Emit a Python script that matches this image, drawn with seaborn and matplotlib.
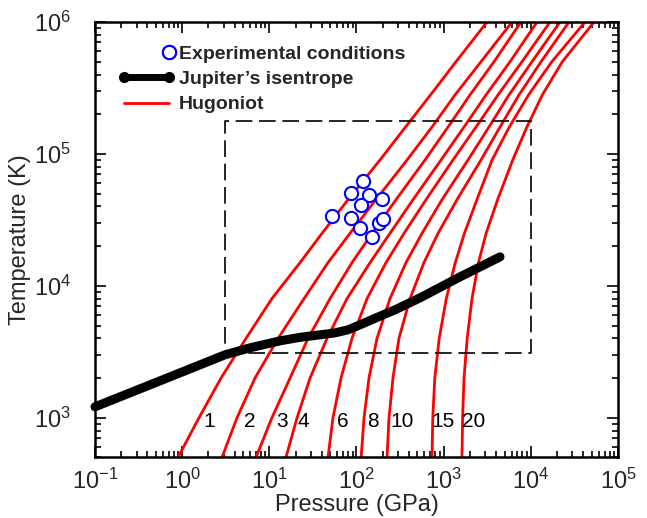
import numpy as np
import pandas as pd
import matplotlib
matplotlib.use("Agg")
import matplotlib.pyplot as plt
import seaborn as sns
from matplotlib.lines import Line2D
from matplotlib.legend_handler import HandlerLine2D
from matplotlib.ticker import LogLocator, FixedLocator

# ---------------- data ----------------
hug_T = [500, 1000, 2000, 4000, 8000, 15000, 25000, 45000, 90000, 160000, 280000, 500000, 1000000]
hug_names = ["1", "2", "3", "4", "6", "8", "10", "15", "20"]
hug_P_1 = [0.895, 1.56, 2.79, 5.40, 10.7, 22.5, 40.2, 79.9, 186, 365, 706, 1384, 3140]
hug_P_2 = [2.86, 4.26, 6.85, 12.6, 25.0, 47.1, 84.2, 167, 380, 735, 1349, 2680, 6080]
hug_P_3 = [7.03, 10.7, 17.3, 27.8, 49.7, 88.8, 151, 284, 611, 1122, 2005, 3780, 7710]
hug_P_4 = [15.5, 20.8, 29.3, 45.9, 77.8, 143, 242, 445, 932, 1712, 3060, 5770, 11780]
hug_P_6 = [47.1, 53.7, 66.4, 88.8, 132, 218, 351, 627, 1279, 2350, 4200, 7910, 16600]
hug_P_8 = [113, 122, 139, 172, 242, 370, 564, 957, 1901, 3311, 5610, 10300, 21600]
hug_P_10 = [224, 236, 262, 307, 411, 594, 861, 1422, 2680, 4430, 7310, 13090, 27400]
hug_P_15 = [735, 750, 791, 889, 1072, 1359, 1729, 2406, 3593, 5661, 9402, 17400, 41820]
hug_P_20 = [1622, 1649, 1711, 1862, 2113, 2508, 3067, 4156, 6194, 9012, 13530, 22960, 53100]
hug_P = [hug_P_1, hug_P_2, hug_P_3, hug_P_4, hug_P_6, hug_P_8, hug_P_10, hug_P_15, hug_P_20]

label_P = [2.05, 6.0, 13.9, 24.5, 69.5, 153, 335, 990, 2230]
label_T = 937

isen_P = [0.1, 0.557, 3.10, 6.0, 13.3, 22.5, 38.1, 56.7, 79.9, 109.7, 163, 276, 535, 1539, 4430]
isen_T = [1211, 1905, 3001, 3391, 3831, 4072, 4254, 4404, 4642, 5064, 5673, 6580, 8110, 11700, 16590]

exp_P = [118, 86.5, 140, 196, 113.5, 51.9, 86.5, 109, 181, 200, 149]
exp_T = [62400, 50400, 48900, 45600, 41100, 34100, 32900, 27600, 29900, 32000, 23600]

box_P = [3.1, 1.0e4]
box_T = [3100, 1.78e5]

x_ticks = [1e-1, 1e0, 1e1, 1e2, 1e3, 1e4, 1e5]
y_ticks = [1e3, 1e4, 1e5, 1e6]


class EndMarkerHandler(HandlerLine2D):
    """Marker placed at the right end of the handle box."""
    def get_xdata(self, legend, xdescent, ydescent, width, height, fontsize):
        pad = self._marker_pad * fontsize
        x_end = -xdescent + width - pad
        xd = np.array([x_end, x_end])
        return xd, xd


# ---------------- style ----------------
sns.set_theme(style="ticks")
plt.rcParams["font.family"] = ["Liberation Sans", "DejaVu Sans"]
plt.rcParams["mathtext.fontset"] = "custom"
plt.rcParams["mathtext.rm"] = "Liberation Sans"
plt.rcParams["mathtext.it"] = "Liberation Sans:italic"
plt.rcParams["mathtext.bf"] = "Liberation Sans:bold"

fig = plt.figure(figsize=(6.47, 5.18), dpi=100)
ax = fig.add_axes([0.1468, 0.1168, 0.9552 - 0.1468, 0.9575 - 0.1168])
ax.set_xscale("log")
ax.set_yscale("log")

# Hugoniots
rows = []
for name, ps in zip(hug_names, hug_P):
    for p, t in zip(ps, hug_T):
        rows.append({"curve": name, "P": p, "T": t})
hug_df = pd.DataFrame(rows)
for name in hug_names:
    sub = hug_df[hug_df["curve"] == name]
    sns.lineplot(data=sub, x="P", y="T", color="#ff0000", lw=2.0, ax=ax,
                 estimator=None, sort=False, legend=False)
    ax.get_lines()[-1].set_solid_joinstyle("round")

# isentrope
isen_df = pd.DataFrame({"P": isen_P, "T": isen_T})
sns.lineplot(data=isen_df, x="P", y="T", color="black", lw=6.5, ax=ax,
             estimator=None, sort=False, legend=False)
ln = ax.get_lines()[-1]
ln.set_solid_capstyle("round")
ln.set_solid_joinstyle("round")
ln.set_clip_on(False)
ln.set_zorder(3)

# dashed box
bx = [box_P[0], box_P[1], box_P[1], box_P[0], box_P[0]]
by = [box_T[0], box_T[0], box_T[1], box_T[1], box_T[0]]
ax.plot(bx, by, color="black", lw=1.2, ls=(0, (10, 4)), zorder=2)

# experimental points
exp_df = pd.DataFrame({"P": exp_P, "T": exp_T})
sns.scatterplot(data=exp_df, x="P", y="T", ax=ax, s=90, facecolor="white",
                edgecolor="#0000ff", linewidth=1.5, zorder=5, legend=False)

# curve labels
for name, p in zip(hug_names, label_P):
    ax.text(p, label_T, name, fontsize=15, ha="center", va="center", color="black")

ax.set_xlim(0.1, 1e5)
ax.set_ylim(500, 1e6)

ax.xaxis.set_major_locator(FixedLocator(x_ticks))
ax.yaxis.set_major_locator(FixedLocator(y_ticks))
ax.xaxis.set_minor_locator(LogLocator(base=10, subs=np.arange(2, 10), numticks=40))
ax.yaxis.set_minor_locator(LogLocator(base=10, subs=np.arange(2, 10), numticks=40))
ax.set_xticklabels([r"$10^{%d}$" % int(np.log10(v)) for v in x_ticks])
ax.set_yticklabels([r"$10^{%d}$" % int(np.log10(v)) for v in y_ticks])

ax.tick_params(which="both", direction="in", top=True, right=True, width=1.4)
ax.tick_params(which="major", length=8, labelsize=17)
ax.tick_params(axis="x", which="major", pad=8)
ax.tick_params(axis="y", which="major", pad=17)
ax.tick_params(which="minor", length=4)
for sp in ax.spines.values():
    sp.set_linewidth(1.8)
    sp.set_color("black")

ax.set_xlabel("Pressure (GPa)", fontsize=17, labelpad=0)
ax.set_ylabel("Temperature (K)", fontsize=17, labelpad=2)

h_exp = Line2D([], [], ls="none", marker="o", markersize=9.5, markerfacecolor="white",
               markeredgecolor="#0000ff", markeredgewidth=1.5)
h_isen = Line2D([0, 1], [0, 0], color="black", lw=5, marker="o", markersize=7)
h_hug = Line2D([], [], color="#ff0000", lw=2)
leg = ax.legend([h_exp, h_isen, h_hug],
                ["Experimental conditions", "Jupiter\u2019s isentrope", "Hugoniot"],
                handler_map={h_exp: EndMarkerHandler(numpoints=2)},
                loc="upper left", bbox_to_anchor=(0.045, 0.947), frameon=False,
                borderaxespad=0, borderpad=0,
                prop={"weight": "bold", "size": 14}, numpoints=2, handlelength=2.9,
                handletextpad=0.2, labelspacing=0.4)

fig.savefig("out.png", dpi=100)
